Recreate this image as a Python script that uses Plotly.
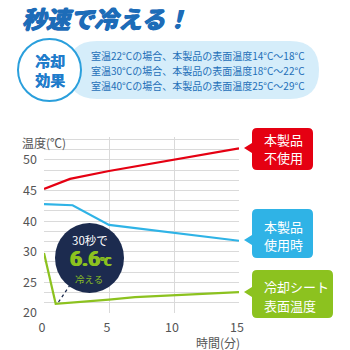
import numpy as np
import plotly.graph_objects as go

# ---- data ----
time_red = [0, 2, 5, 10, 15]
temp_red = [45.25, 46.9, 48.2, 50.0, 51.9]          # 本製品不使用
time_blue = [0, 2.2, 5, 15]
temp_blue = [42.8, 42.6, 38.8, 33.6]                 # 本製品使用時
time_green = [0, 0.9, 5, 7, 15]
temp_green = [29.8, 21.5, 22.2, 22.6, 23.4]          # 冷却シート表面温度

y_tick_values = [20, 25, 30, 40, 45, 50]
y_tick_labels = ["20", "25", "30", "40", "45", "50"]
x_tick_values = [0, 5, 10, 15]
x_tick_labels = ["0", "5", "10", "15"]

info_lines = [
    "室温22°Cの場合、本製品の表面温度14°C～18°C",
    "室温30°Cの場合、本製品の表面温度18°C～22°C",
    "室温40°Cの場合、本製品の表面温度25°C～29°C",
]

# broken axis: 30→40 compressed into one step
brk_vals = [20, 25, 30, 40, 45, 50, 55]
brk_pos = [0, 1, 2, 3, 4, 5, 6]
def ymap(v):
    return list(np.interp(np.asarray(v, dtype=float), brk_vals, brk_pos))

FONT = "Noto Sans CJK JP"
RED = "#e50012"
BLUE = "#2fb3e6"
GREEN = "#8cc21f"
NAVY = "#1c2b4f"
GRID = "#dadada"

W, H = 350, 350
L, R, T, B = 44, 111, 137, 37
PW, PH = W - L - R, H - T - B

def px(x):
    return (x - L) / PW
def py(y):
    return (H - B - y) / PH

def rbox_path(x0, y0, x1, y1, r, tip=None):
    pts = []
    def P(cmd, *xy):
        s = cmd
        for i in range(0, len(xy), 2):
            s += f" {px(xy[i]):.5f},{py(xy[i+1]):.5f}"
        pts.append(s)
    P("M", x0 + r, y0)
    P("L", x1 - r, y0)
    P("Q", x1, y0, x1, y0 + r)
    P("L", x1, y1 - r)
    P("Q", x1, y1, x1 - r, y1)
    P("L", x0 + r, y1)
    P("Q", x0, y1, x0, y1 - r)
    if tip is not None:
        tx, ty = tip
        P("L", x0, ty + 5)
        P("L", tx, ty)
        P("L", x0, ty - 5)
    P("L", x0, y0 + r)
    P("Q", x0, y0, x0 + r, y0)
    return " ".join(pts) + " Z"

fig = go.Figure()
for xs, ys, c in [(time_red, temp_red, RED), (time_blue, temp_blue, BLUE), (time_green, temp_green, GREEN)]:
    fig.add_trace(go.Scatter(x=xs, y=ymap(ys), mode="lines", line=dict(color=c, width=2.2),
                             hoverinfo="skip", showlegend=False, cliponaxis=False))

minor_vals = [i / 3 for i in range(0, 18)]
y_pos = ymap(y_tick_values)
minor_text = []
for v in minor_vals:
    lab = ""
    for p, t in zip(y_pos, y_tick_labels):
        if abs(p - v) < 1e-6:
            lab = t
    minor_text.append(lab)

shapes = []
# top pill + circle
shapes.append(dict(type="path", xref="paper", yref="paper", path=rbox_path(68, 41, 319, 99, 29),
                   fillcolor="#d5edfa", line=dict(width=0), layer="above"))
shapes.append(dict(type="circle", xref="paper", yref="paper", x0=px(18), x1=px(81), y0=py(101), y1=py(39),
                   fillcolor="white", line=dict(color="#2a9fdc", width=2), layer="above"))
# label boxes
shapes.append(dict(type="path", xref="paper", yref="paper", path=rbox_path(252, 128, 313, 170, 5, tip=(244, 148)),
                   fillcolor=RED, line=dict(width=0), layer="above"))
shapes.append(dict(type="path", xref="paper", yref="paper", path=rbox_path(252, 209, 313, 258, 5, tip=(244, 240)),
                   fillcolor=BLUE, line=dict(width=0), layer="above"))
shapes.append(dict(type="path", xref="paper", yref="paper", path=rbox_path(252, 270, 333, 318, 5, tip=(244, 292)),
                   fillcolor=GREEN, line=dict(width=0), layer="above"))
# callout circle + dotted pointer
shapes.append(dict(type="line", xref="paper", yref="paper", x0=px(58.5), y0=py(302), x1=px(70), y1=py(285),
                   line=dict(color=NAVY, width=1.3, dash="dot"), layer="above"))
shapes.append(dict(type="circle", xref="paper", yref="paper", x0=px(55), x1=px(124), y0=py(293), y1=py(223),
                   fillcolor=NAVY, line=dict(width=0), layer="above"))

ann = []
def A(text, x, y, size, color, xa="center", ya="middle", weight="normal", style="normal", shadow="none",
      family=FONT):
    ann.append(dict(text=text, x=px(x), y=py(y), xref="paper", yref="paper", xanchor=xa, yanchor=ya,
                    showarrow=False, align="left" if xa == "left" else "center",
                    font=dict(family=family, size=size, color=color, weight=weight, style=style, shadow=shadow)))

thick_blue = "0.7px 0 0 #1d6cb8, -0.7px 0 0 #1d6cb8, 0 0.6px 0 #1d6cb8"
A("秒速で冷える！", 20, 17.5, 24, "#1d6cb8", xa="left", weight="bold", style="italic", shadow=thick_blue)
A("冷却", 49.5, 61, 15, "#1f7ccb", weight="bold", shadow="0.4px 0 0 #1f7ccb")
A("効果", 49.5, 80, 15, "#1f7ccb", weight="bold", shadow="0.4px 0 0 #1f7ccb")
for i, line in enumerate(info_lines):
    A(line, 89, 55 + 15 * i, 10, "#1e6fb8", xa="left")
A("温度(℃)", 20, 142.5, 12, "#555555", xa="left")
A("時間(分)", 242, 342, 12, "#555555", xa="right")
A("本製品", 262, 139, 13, "white", xa="left")
A("不使用", 262, 157, 13, "white", xa="left")
A("本製品", 262, 226.5, 13, "white", xa="left")
A("使用時", 262, 244.5, 13, "white", xa="left")
A("冷却シート", 262, 286, 13, "white", xa="left")
A("表面温度", 262, 305, 13, "white", xa="left")
A("30秒で", 90, 239.5, 11.5, "white")
thick_green = "0.7px 0 0 " + GREEN + ", -0.7px 0 0 " + GREEN
A("6.6<span style='font-size:11px'>℃</span>", 90, 258.5, 21, GREEN, weight="bold", shadow=thick_green,
  family="Roboto, " + FONT)
A("冷える", 89, 278.5, 9.5, GREEN)

fig.update_layout(
    width=W, height=H, margin=dict(l=L, r=R, t=T, b=B),
    paper_bgcolor="white", plot_bgcolor="white",
    font=dict(family=FONT, color="#555555", size=12),
    shapes=shapes, annotations=ann, showlegend=False,
    xaxis=dict(range=[0, 15], tickvals=x_tick_values, ticktext=x_tick_labels, showgrid=True,
               gridcolor=GRID, gridwidth=1, zeroline=False, showline=False, ticks="",
               ticklabelstandoff=5, ticklabelshift=-2, tickfont=dict(size=12.5, color="#555555"),
               fixedrange=True),
    yaxis=dict(range=[0, 5.75], tickvals=minor_vals, ticktext=minor_text, showgrid=True,
               gridcolor=GRID, gridwidth=1, zeroline=False, showline=False, ticks="",
               ticklabelstandoff=6, tickfont=dict(size=12.5, color="#555555"), fixedrange=True),
)

fig.write_html("out.html")
